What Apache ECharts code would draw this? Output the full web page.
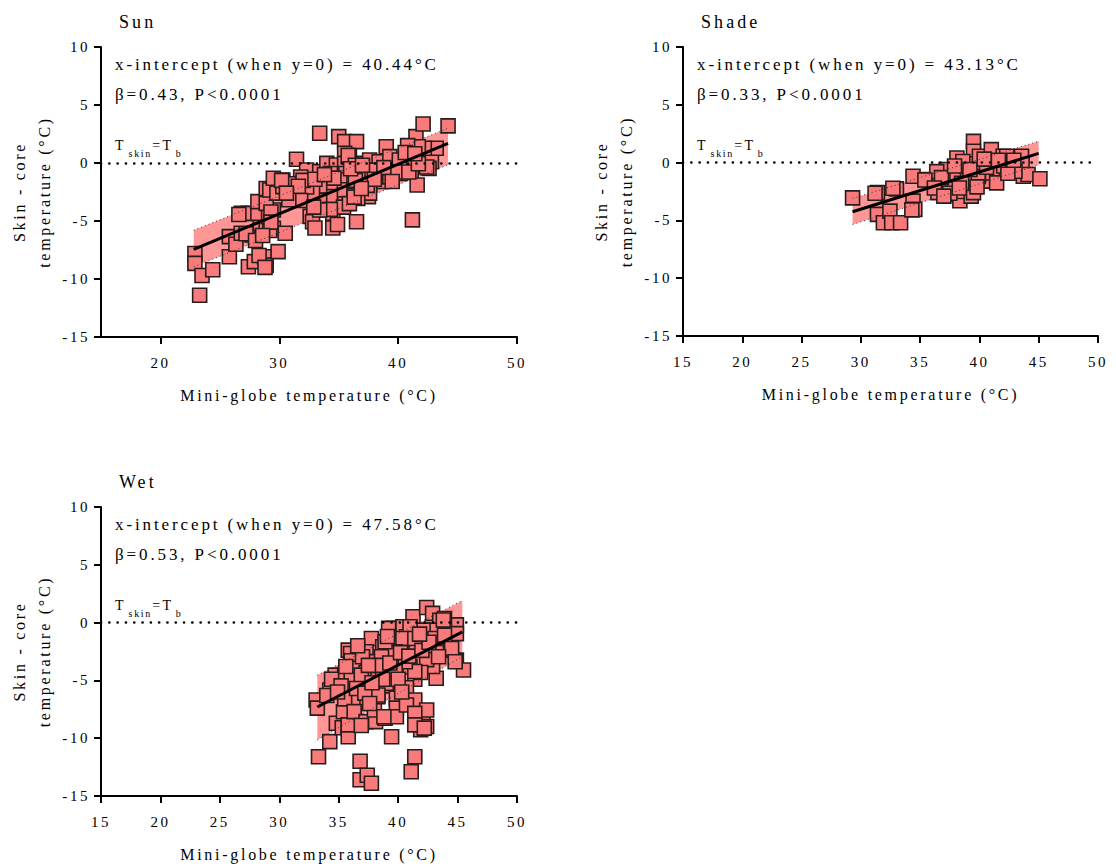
<!DOCTYPE html>
<html>
<head>
<meta charset="utf-8">
<title>Skin - core temperature vs mini-globe temperature</title>
<script src="https://cdn.jsdelivr.net/npm/echarts@6/dist/echarts.min.js"></script>
<style>
  html, body { margin: 0; padding: 0; background: #fff; }
  #chart { width: 1116px; height: 867px; }
  /* the source figure has wide letter spacing everywhere */
  #chart text { letter-spacing: 0.17em; }
</style>
</head>
<body>
<div id="chart"></div>
<script>
// ---- data ----
const sunPoints = [
  [22.9,-7.8],[22.9,-8.65],[23.3,-11.4],[23.5,-9.7],[24.4,-9.2],[25.8,-8.08],[25.8,-6.35],[26.35,-7.0],
  [26.8,-6.06],[26.8,-4.34],[27.4,-4.34],[27.7,-6.2],[27.4,-8.94],[27.9,-8.5],[28.75,-8.08],[28.9,-8.8],
  [29.9,-7.64],[28.5,-6.2],[28.4,-5.2],[28.9,-5.63],[29.5,-5.63],[28.2,-4.34],[29.1,-4.63],[29.5,-4.05],
  [28.2,-3.33],[28.9,-3.48],[28.9,-2.2],[29.2,-2.33],[29.8,-2.6],[29.5,-1.32],[30.3,-1.47],[30.3,-2.04],
  [31.0,-2.33],[31.0,-3.04],[30.5,-6.06],[31.45,0.32],[31.9,-2.9],[32.3,-2.33],[32.3,-0.6],[32.8,-3.19],
  [33.4,-2.9],[33.4,-0.75],[34.0,-0.03],[34.8,-0.17],[34.0,-3.48],[34.8,-3.19],[35.6,-2.9],[33.7,-4.05],
  [34.5,-4.34],[35.1,-3.77],[35.5,-3.48],[36.5,-3.04],[37.5,-2.9],[32.6,-4.6],[32.8,-5.06],[33.0,-5.6],
  [34.5,-5.6],[34.9,-5.3],[36.5,-5.06],[41.2,-4.9],[33.4,2.56],[35.0,2.27],[35.5,1.84],[36.5,1.84],
  [35.5,0.84],[35.5,-0.03],[35.6,-0.9],[36.5,-0.03],[36.8,-1.03],[37.6,0.26],[37.6,-0.6],[38.4,0.11],
  [38.6,-0.75],[38.7,-1.6],[39.0,1.4],[39.6,0.11],[39.85,-0.6],[40.3,-0.03],[41.1,-0.75],[41.2,0.26],
  [41.6,-1.9],[41.5,2.27],[42.1,3.36],[44.2,3.2],[42.4,0.54],[42.8,0.11],[42.6,-0.46],[43.2,1.27],
  [42.2,1.27],[41.7,1.4],[40.8,1.5],[35.9,0.55],[39.3,0.55],[40.1,0.26],[37.2,-0.75],[38.1,-1.0],
  [39.3,-1.2],[40.2,-0.9],[37.6,-1.9],[37.6,-2.6],[36.6,-3.05],[35.9,-2.5],[35.9,-1.6],[35.1,-1.47],
  [35.1,-2.3],[34.3,-0.9],[34.3,-1.9],[34.3,-2.9],[33.4,-2.0],[33.4,-3.2],[35.4,-3.8],[34.3,-4.0],
  [33.4,-4.05],[35.9,-3.5],[32.8,-2.6],[31.8,-1.21],[32.3,-2.07],[31.8,-3.23],[30.8,-1.79],[30.8,-3.17],
  [30.2,-1.5],[26.6,-4.44],[27.2,-6.1],[28.3,-7.98],[36.3,-2.94],[37.4,-1.93],[36.4,-1.5],[37.8,-0.63],
  [39.8,-0.78],[40.9,-0.78],[42.4,-0.35],[41.7,-0.06],[35.8,0.66],[36.4,-0.2],[29.3,-4.23],[29.2,-5.82],
  [29.3,-5.1],[28.0,-6.68],[28.6,-6.25],[28.8,-9.0],[32.0,-1.5],[33.0,-1.4],[34.6,-1.3],[36.0,-0.5],
  [37.0,-0.2],[38.8,-0.4],[39.5,-1.6],[40.6,0.9],[41.4,0.8],[38.0,-1.4],[36.9,-2.2],[33.8,-1.0],
  [31.6,-2.0],[30.6,-2.6],[32.9,-3.8]
];
const shadePoints = [
  [29.3,-3.05],[31.4,-2.6],[31.4,-4.48],[31.9,-5.2],[32.45,-4.2],[32.6,-5.2],[33.35,-5.2],[33.0,-2.27],
  [34.4,-1.18],[34.4,-3.33],[34.55,-4.05],[35.5,-1.47],[36.5,-0.9],[36.6,-1.9],[36.5,-2.6],[37.2,-0.6],
  [37.3,-1.47],[37.4,-2.1],[38.1,0.4],[38.1,-1.05],[37.9,-2.76],[38.35,-3.3],[38.9,-0.32],[39.0,-1.47],
  [38.6,-2.5],[39.3,-2.9],[39.5,1.84],[39.5,0.98],[39.6,-0.1],[39.5,-2.6],[40.0,0.55],[40.1,-0.75],
  [40.3,-1.6],[41.0,1.12],[40.8,0.0],[41.1,-0.9],[41.45,-1.75],[42.0,0.55],[42.05,-0.3],[42.3,0.55],
  [42.6,-0.6],[43.55,0.55],[43.6,-0.17],[43.7,-1.18],[44.1,-1.03],[45.1,-1.4],[43.0,-0.75],[42.4,-0.92],
  [37.5,-2.65],[36.4,-0.78],[35.4,-1.5],[34.3,-4.09],[32.7,-2.22],[31.2,-2.65],[36.8,-1.3],[38.5,-1.8],
  [39.9,-1.2],[40.6,-0.4],[41.6,0.2],[38.6,0.1],[39.2,-0.6],[37.9,-0.3],[36.2,-2.2],[40.4,0.3],
  [42.9,0.2],[38.3,-2.2],[39.8,-2.1],[37.0,-2.9]
];
const wetPoints = [
  [33.1,-6.7],[33.2,-7.4],[33.3,-11.6],[34.25,-10.3],[34.25,-5.83],[34.7,-4.54],[34.8,-8.71],[35.4,-7.71],
  [35.3,-9.1],[35.8,-2.38],[36.0,-2.67],[36.05,-3.3],[36.3,-3.95],[35.5,-4.5],[34.4,-4.9],[34.0,-6.3],
  [36.2,-6.55],[35.8,-9.13],[35.8,-9.87],[35.8,-8.85],[36.8,-12.0],[36.8,-13.6],[37.4,-13.2],[37.75,-13.9],
  [37.75,-1.37],[37.3,-2.52],[37.8,-3.38],[37.3,-4.32],[36.9,-4.9],[36.05,-4.9],[35.2,-5.47],[35.5,-6.6],
  [36.3,-7.7],[37.3,-8.57],[38.1,-8.57],[38.0,-7.56],[38.3,-6.4],[38.7,-2.09],[38.75,-3.2],[38.9,-4.3],
  [38.9,-8.28],[39.45,-9.87],[39.3,-5.47],[39.85,-6.55],[39.85,-7.4],[39.85,-8.15],[39.6,-0.5],[39.85,-1.8],
  [39.6,-2.95],[40.4,-0.36],[40.7,-1.22],[41.0,-3.82],[41.25,0.5],[41.5,-2.1],[41.4,-4.9],[40.7,-5.63],
  [41.4,-6.7],[41.1,-12.9],[41.4,-11.6],[42.1,-8.57],[42.4,-7.56],[42.4,-8.99],[41.9,-9.27],[42.4,1.3],
  [42.9,0.8],[43.5,0.2],[43.8,-0.95],[43.5,-1.8],[42.8,-0.65],[42.1,-0.65],[44.4,-2.38],[44.9,-0.2],
  [44.9,-0.95],[44.9,-3.25],[45.5,-4.1],[43.2,-4.82],[42.9,-3.8],[42.4,-3.2],[41.9,-4.32],[43.9,0.36],
  [39.2,-0.5],[41.0,-0.36],[40.4,-1.37],[41.4,-1.37],[43.1,-1.37],[43.9,-1.08],[44.5,-2.23],[43.4,-2.95],
  [44.8,-3.39],[41.4,-4.23],[40.6,-3.39],[39.75,-2.52],[39.75,-4.23],[39.0,-5.26],[40.7,-7.13],[41.4,-7.85],
  [41.4,-8.85],[42.2,-9.13],[37.0,-2.95],[36.9,-4.54],[38.3,-4.23],[38.8,-8.14],[38.3,-6.26],[38.7,-4.9],
  [38.9,-1.66],[38.6,-2.95],[36.5,-5.7],[37.2,-6.1],[37.8,-5.2],[38.5,-3.7],[39.3,-3.5],[40.2,-2.6],
  [40.9,-2.9],[42.0,-2.4],[42.6,-1.7],[41.8,-1.0],[40.0,-4.9],[37.5,-3.7],[36.6,-2.0],[39.1,-1.2],
  [40.3,-6.0],[37.6,-7.0],[36.9,-8.9],[34.9,-6.0],[35.6,-3.8],[43.8,0.23]
];

// regression line and prediction band, two ends each
const sunFitX = [22.8, 44.2];
const sunFitY = [-7.45, 1.7];
const sunBandLo = [-8.95, -0.15];
const sunBandHi = [-5.8, 3.0];

const shadeFitX = [29.3, 45.0];
const shadeFitY = [-4.25, 0.8];
const shadeBandLo = [-5.35, -0.2];
const shadeBandHi = [-3.1, 1.85];

const wetFitX = [33.2, 45.4];
const wetFitY = [-7.3, -0.8];
const wetBandLo = [-10.15, -2.95];
const wetBandHi = [-4.55, 1.9];

const panelTitles = ["Sun", "Shade", "Wet"];
const interceptText = [
  "x-intercept (when y=0) = 40.44°C",
  "x-intercept (when y=0) = 43.13°C",
  "x-intercept (when y=0) = 47.58°C",
];
const slopeText = ["β=0.43, P<0.0001", "β=0.33, P<0.0001", "β=0.53, P<0.0001"];

const sunXTicks = [20, 30, 40, 50];
const yName = "Skin - core\ntemperature (°C)";
const xName = "Mini-globe temperature (°C)";

// ---- styles ----
const FONT = "Liberation Serif";
const black = "#000";
const markerFill = "#f87a7a";
const markerBorder = "#2a1c1c";
const bandFill = "#ff9797";

const grids = [
  { left: 101, top: 47, width: 416, height: 290 },
  { left: 683, top: 47, width: 415, height: 289 },
  { left: 101, top: 507, width: 416, height: 289 },
];

function pairs(xs, ys) {
  return xs.map((x, i) => [x, ys[i]]);
}

function bandSegments(xs, lo, hi) {
  const out = [];
  for (let i = 0; i < xs.length - 1; i++) {
    out.push([xs[i], lo[i], hi[i], xs[i + 1], lo[i + 1], hi[i + 1]]);
  }
  return out;
}

function xAxis(idx, custom) {
  const ax = {
    type: "value",
    gridIndex: idx,
    min: 15,
    max: 50,
    interval: 5,
    name: xName,
    nameLocation: "middle",
    nameGap: 50,
    nameTextStyle: { fontFamily: FONT, fontSize: 16, color: black },
    axisLine: { show: true, onZero: false, lineStyle: { color: black, width: 2 } },
    axisTick: { show: true, length: 7, lineStyle: { color: black, width: 2 } },
    axisLabel: { fontFamily: FONT, fontSize: 15, color: black, margin: 18 },
    splitLine: { show: false },
  };
  if (custom) {
    ax.axisTick.customValues = custom;
    ax.axisLabel.customValues = custom;
  }
  return ax;
}

function yAxis(idx) {
  return {
    type: "value",
    gridIndex: idx,
    min: -15,
    max: 10,
    interval: 5,
    name: yName,
    nameLocation: "middle",
    nameRotate: 90,
    nameGap: 44,
    nameTextStyle: { fontFamily: FONT, fontSize: 16, lineHeight: 25, color: black },
    axisLine: { show: true, onZero: false, lineStyle: { color: black, width: 2 } },
    axisTick: { show: true, length: 7, lineStyle: { color: black, width: 2 } },
    axisLabel: { fontFamily: FONT, fontSize: 15, color: black, margin: 11 },
    splitLine: { show: false },
  };
}

function panelSeries(idx, points, fitX, fitY, lo, hi) {
  const axes = { xAxisIndex: idx, yAxisIndex: idx };
  const edgeStyle = { color: "#4a2c2c", width: 1, type: [1, 3] };
  return [
    {
      type: "custom",
      ...axes,
      z: 1,
      silent: true,
      data: bandSegments(fitX, lo, hi),
      renderItem(params, api) {
        const a = api.coord([api.value(0), api.value(1)]);
        const b = api.coord([api.value(3), api.value(4)]);
        const c = api.coord([api.value(3), api.value(5)]);
        const d = api.coord([api.value(0), api.value(2)]);
        return {
          type: "polygon",
          shape: { points: [a, b, c, d] },
          style: { fill: bandFill },
        };
      },
      markLine: {
        silent: true,
        symbol: "none",
        label: { show: false },
        lineStyle: { color: black, width: 2.6, type: [0.1, 8.2], cap: "round" },
        data: [{ yAxis: 0 }],
      },
    },
    {
      type: "scatter",
      ...axes,
      z: 3,
      symbol: "rect",
      symbolSize: 14,
      itemStyle: { color: markerFill, borderColor: markerBorder, borderWidth: 1.6, opacity: 1 },
      data: points,
    },
    {
      type: "line",
      ...axes,
      z: 4,
      showSymbol: false,
      lineStyle: edgeStyle,
      data: pairs(fitX, lo),
    },
    {
      type: "line",
      ...axes,
      z: 4,
      showSymbol: false,
      lineStyle: edgeStyle,
      data: pairs(fitX, hi),
    },
    {
      type: "line",
      ...axes,
      z: 5,
      showSymbol: false,
      lineStyle: { color: black, width: 3 },
      data: pairs(fitX, fitY),
    },
  ];
}

// annotation texts, positioned relative to each grid
function annotations(idx) {
  const g = grids[idx];
  const x = g.left + 14;
  // rich fragments are measured without the css letter spacing, so pad them
  const big = { fontFamily: FONT, fontSize: 14, fill: black, verticalAlign: "top", lineHeight: 20 };
  const small = { fontFamily: FONT, fontSize: 10, fill: black, verticalAlign: "bottom", lineHeight: 20 };
  return [
    {
      type: "text",
      left: x,
      top: g.top + 9,
      style: { text: interceptText[idx], font: `17px "${FONT}"`, fill: black },
    },
    {
      type: "text",
      left: x,
      top: g.top + 39,
      style: { text: slopeText[idx], font: `17px "${FONT}"`, fill: black },
    },
    {
      type: "text",
      left: x,
      top: g.top + 91,
      style: {
        text: "{a|T}{b|skin}{c|=T}{d|b}",
        rich: {
          a: { ...big, padding: [0, 5, 0, 0] },
          b: { ...small, padding: [0, 7, 0, 0] },
          c: { ...big, padding: [0, 7, 0, 0] },
          d: { ...small },
        },
      },
    },
  ];
}

const chart = echarts.init(document.getElementById("chart"), null, { renderer: "svg" });

chart.setOption({
  backgroundColor: "#fff",
  animation: false,
  title: grids.map((g, i) => ({
    text: panelTitles[i],
    left: g.left + 13,
    top: g.top - 39,
    textStyle: { fontFamily: FONT, fontSize: 18, fontWeight: "normal", color: black },
  })),
  grid: grids.map((g) => ({ ...g, containLabel: false, outerBoundsMode: "none" })),
  xAxis: [xAxis(0, sunXTicks), xAxis(1), xAxis(2)],
  yAxis: [yAxis(0), yAxis(1), yAxis(2)],
  graphic: [...annotations(0), ...annotations(1), ...annotations(2)],
  series: [
    ...panelSeries(0, sunPoints, sunFitX, sunFitY, sunBandLo, sunBandHi),
    ...panelSeries(1, shadePoints, shadeFitX, shadeFitY, shadeBandLo, shadeBandHi),
    ...panelSeries(2, wetPoints, wetFitX, wetFitY, wetBandLo, wetBandHi),
  ],
});

window.addEventListener("resize", () => chart.resize());
</script>
</body>
</html>
